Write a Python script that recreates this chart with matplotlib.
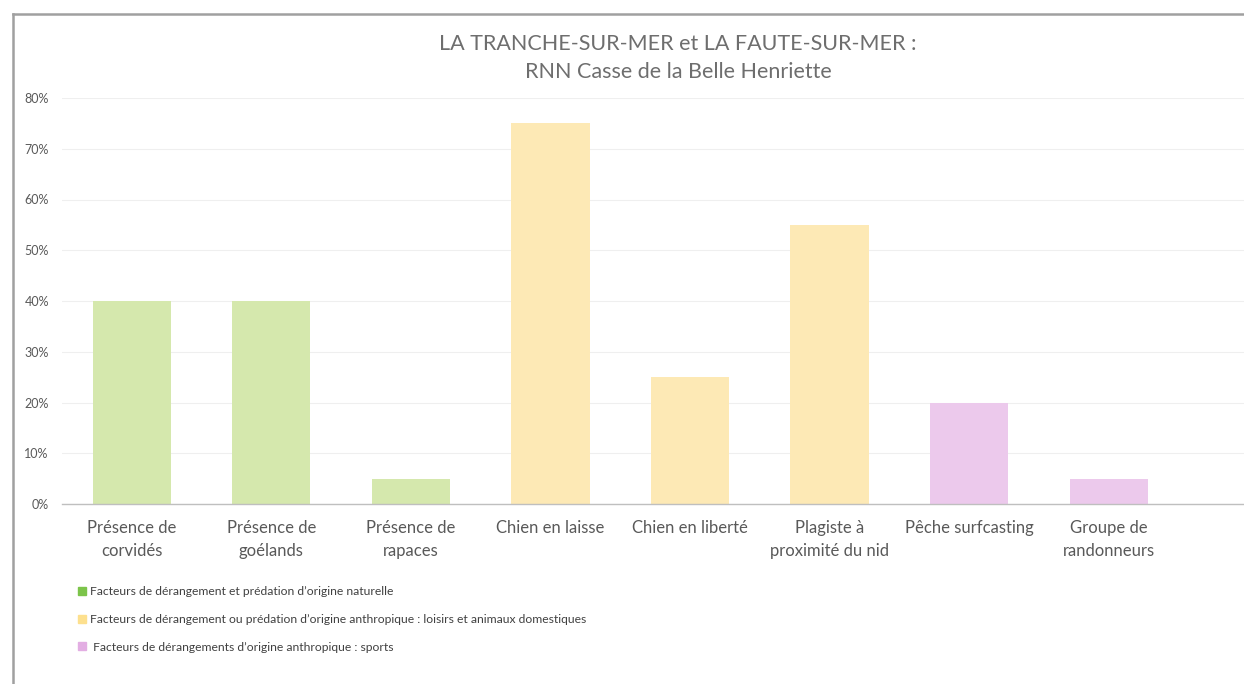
import matplotlib.pyplot as plt
from matplotlib.lines import Line2D
from matplotlib.ticker import PercentFormatter

plt.rcParams["font.family"] = ["Lato", "DejaVu Sans"]

categories = [
    "Présence de\ncorvidés",
    "Présence de\ngoélands",
    "Présence de\nrapaces",
    "Chien en laisse",
    "Chien en liberté",
    "Plagiste à\nproximité du nid",
    "Pêche surfcasting",
    "Groupe de\nrandonneurs",
]
values = [0.40, 0.40, 0.05, 0.75, 0.25, 0.55, 0.20, 0.05]
groups = [0, 0, 0, 1, 1, 1, 2, 2]

group_labels = [
    "Facteurs de dérangement et prédation d\u2019origine naturelle",
    "Facteurs de dérangement ou prédation d\u2019origine anthropique : loisirs et animaux domestiques",
    " Facteurs de dérangements d\u2019origine anthropique : sports",
]
bar_colors = ["#d5e8ad", "#fde9b5", "#ecc9ec"]
legend_colors = ["#7cc44a", "#fde08e", "#e3aee3"]

fig = plt.figure(figsize=(12.44, 6.84), dpi=100)
ax = fig.add_axes([62 / 1244, 1 - 504 / 684, 1 - 62 / 1244, (504 - 98) / 684])

x = list(range(len(categories)))
ax.bar(x, values, width=0.56, color=[bar_colors[g] for g in groups], zorder=2)

ax.set_ylim(0, 0.8)
ax.set_xlim(-0.5, 7.97)
ax.yaxis.set_major_formatter(PercentFormatter(1.0, decimals=0))
ax.set_yticks([i / 10 for i in range(9)])
ax.set_xticks(x)
ax.set_xticklabels(categories, fontsize=12, color="#595959", linespacing=1.55)
ax.tick_params(axis="x", length=0, pad=11.5)
ax.tick_params(axis="y", length=0, pad=9.5, labelsize=9, labelcolor="#595959")
ax.grid(axis="y", color="#efefef", linewidth=0.8, zorder=0)
for s in ["top", "right", "left"]:
    ax.spines[s].set_visible(False)
ax.spines["bottom"].set_color("#bfbfbf")
ax.spines["bottom"].set_linewidth(1.0)

fig.text(678 / 1244, 1 - 44 / 684, "LA TRANCHE-SUR-MER et LA FAUTE-SUR-MER :",
         ha="center", va="center", fontsize=15.5, color="#6e6e6e")
fig.text(678 / 1244, 1 - 72 / 684, "RNN Casse de la Belle Henriette",
         ha="center", va="center", fontsize=15.5, color="#6e6e6e")

handles = [Line2D([], [], linestyle="none", marker="s", markersize=6,
                  markerfacecolor=c, markeredgecolor=c) for c in legend_colors]
fig.legend(handles, group_labels, loc="upper left",
           bbox_to_anchor=(74 / 1244, 1 - 581 / 684), frameon=False,
           fontsize=8.7, labelcolor="#404040", handlelength=0.6,
           handletextpad=0.3, labelspacing=1.4, borderaxespad=0)

# outer frame of the pasted chart
fig.add_artist(Line2D([13 / 1244, 13 / 1244], [0, 1 - 14 / 684],
                      transform=fig.transFigure, color="#a0a0a0", linewidth=1.8))
fig.add_artist(Line2D([13 / 1244, 1], [1 - 14 / 684, 1 - 14 / 684],
                      transform=fig.transFigure, color="#a0a0a0", linewidth=1.8))

fig.savefig("out.png", dpi=100)
